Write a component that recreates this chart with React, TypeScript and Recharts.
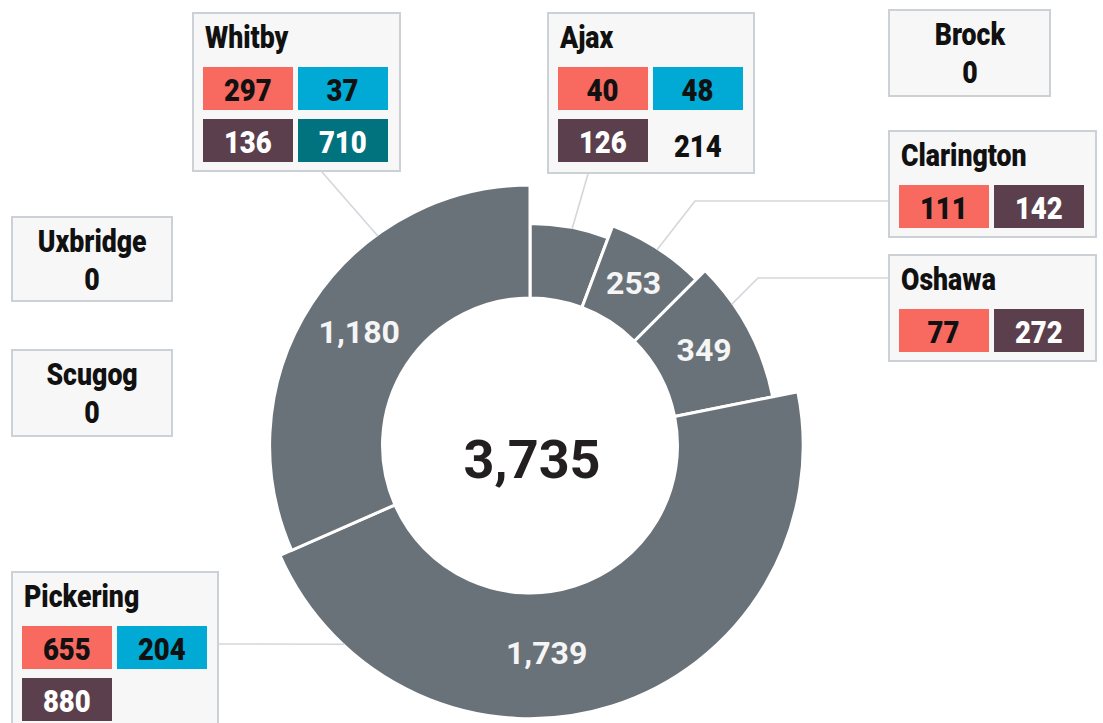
import { PieChart, Pie, Cell } from 'recharts';

// municipalities and the four breakdown series (red, cyan, plum, teal tiles)
const municipalities = ['Ajax', 'Clarington', 'Oshawa', 'Pickering', 'Whitby', 'Brock', 'Uxbridge', 'Scugog'];
const redValues = [40, 111, 77, 655, 297, 0, 0, 0];
const cyanValues = [48, 0, 0, 204, 37, 0, 0, 0];
const plumValues = [126, 142, 272, 880, 136, 0, 0, 0];
const tealValues = [0, 0, 0, 0, 710, 0, 0, 0];

const series = [redValues, cyanValues, plumValues, tealValues];
const tileStyles = [
  { bg: '#f8695f', color: '#111' },
  { bg: '#00aad4', color: '#111' },
  { bg: '#5c3f4d', color: '#fff' },
  { bg: '#00737e', color: '#fff' },
];

const totals = municipalities.map((_, i) => series.reduce((s, arr) => s + arr[i], 0));
const grandTotal = totals.reduce((s, v) => s + v, 0);
const sliceData = municipalities
  .map((name, i) => ({ name, value: totals[i] }))
  .filter((d) => d.value > 0);
const sortedValues = sliceData.map((d) => d.value).sort((a, b) => a - b);

const W = 1103;
const H = 723;
const CX = 530;
const CY = 445.5;
const INNER = 147.5;
const OUTER_BASE = 222;
const OUTER_STEP = 12.8;
const SLICE = '#6a7279';
const LEADER = '#d3d7db';
const MIN_LABEL_ANGLE = 22;
const RAD = Math.PI / 180;

const outerFor = (v: number) => OUTER_BASE + OUTER_STEP * sortedValues.indexOf(v);
const sliceAngle = (v: number) => (v / grandTotal) * 360;
const fmt = (v: number) => v.toLocaleString('en-US');

const labelShift: Record<string, number> = { Pickering: -13 };

const boxLayout: Record<string, { left: number; top: number; width: number; height: number }> = {
  Whitby: { left: 192, top: 12, width: 209, height: 160 },
  Ajax: { left: 547, top: 12, width: 208, height: 162 },
  Brock: { left: 888, top: 9, width: 163, height: 88 },
  Clarington: { left: 888, top: 130, width: 209, height: 108 },
  Oshawa: { left: 888, top: 254, width: 209, height: 108 },
  Uxbridge: { left: 11, top: 216, width: 162, height: 86 },
  Scugog: { left: 11, top: 349, width: 162, height: 88 },
  Pickering: { left: 11, top: 571, width: 208, height: 162 },
};

// leader lines: angle clockwise from 12 o'clock where they leave the ring, then points to the box
const leaders: { name: string; angle: number; path: number[][] }[] = [
  { name: 'Whitby', angle: 324, path: [[322, 172]] },
  { name: 'Ajax', angle: 11, path: [[588, 174]] },
  { name: 'Clarington', angle: 33, path: [[695, 201], [888, 201]] },
  { name: 'Oshawa', angle: 55, path: [[758, 278], [888, 278]] },
  { name: 'Pickering', angle: 223, path: [[219, 644]] },
];

function Narrow({ children, origin = 'center' }: { children: any; origin?: string }) {
  return (
    <span style={{ display: 'inline-block', fontWeight: 900, transform: 'scaleX(0.86)', transformOrigin: origin }}>
      {children}
    </span>
  );
}

function TownBox({ name }: { name: string }) {
  const i = municipalities.indexOf(name);
  const box = boxLayout[name];
  const total = totals[i];
  const base: any = {
    position: 'absolute',
    left: box.left,
    top: box.top,
    width: box.width,
    height: box.height,
    boxSizing: 'border-box',
    background: '#f7f7f7',
    border: '2px solid #ccd1d7',
    color: '#111',
    lineHeight: 1,
  };

  if (total === 0) {
    return (
      <div style={{ ...base, textAlign: 'center', paddingTop: 5, fontSize: 31, lineHeight: '38px' }}>
        <div><Narrow>{name}</Narrow></div>
        <div><Narrow>0</Narrow></div>
      </div>
    );
  }

  const tiles = series.map((arr, k) => ({ v: arr[i], k })).filter((t) => t.v > 0);
  const showTotal = sliceAngle(total) < MIN_LABEL_ANGLE;

  return (
    <div style={base}>
      <div style={{ position: 'absolute', left: 11, top: 8, fontSize: 31, lineHeight: '31px' }}>
        <Narrow origin="left center">{name}</Narrow>
      </div>
      <div
        style={{
          position: 'absolute',
          left: 9,
          top: 53,
          display: 'grid',
          gridTemplateColumns: 'repeat(2, 90px)',
          gridAutoRows: '43px',
          columnGap: 5,
          rowGap: 9,
          fontSize: 32,
        }}
      >
        {tiles.map((t) => (
          <div
            key={t.k}
            style={{
              background: tileStyles[t.k].bg,
              color: tileStyles[t.k].color,
              textAlign: 'center',
              lineHeight: '46px',
              overflow: 'hidden',
            }}
          >
            <Narrow>{fmt(t.v)}</Narrow>
          </div>
        ))}
        {showTotal && (
          <div style={{ textAlign: 'center', lineHeight: '54px', color: '#111' }}>
            <Narrow>{fmt(total)}</Narrow>
          </div>
        )}
      </div>
    </div>
  );
}

const renderLabel = (props: any, si: number) => {
  if (props.index !== si) return null;
  const d = sliceData[si];
  if (sliceAngle(d.value) < MIN_LABEL_ANGLE) return null;
  const cx = Number(props.cx ?? CX);
  const cy = Number(props.cy ?? CY);
  const ang = (props.midAngle + (labelShift[d.name] || 0)) * RAD;
  const r = (props.innerRadius + props.outerRadius) / 2;
  return (
    <text
      key={`lbl-${d.name}`}
      x={cx + r * Math.cos(ang)}
      y={cy - r * Math.sin(ang) - 2}
      textAnchor="middle"
      dominantBaseline="central"
      fontSize={32}
      fontWeight={700}
      fontFamily="Roboto, sans-serif"
      fill="#f5f5f5"
    >
      {fmt(d.value)}
    </text>
  );
};

export default function App() {
  return (
    <div
      style={{
        position: 'absolute',
        left: 0,
        top: 0,
        width: W,
        height: H,
        overflow: 'hidden',
        background: '#fff',
        fontFamily: 'Roboto, sans-serif',
      }}
    >
      <PieChart width={W} height={H} margin={{ top: 0, right: 0, bottom: 0, left: 0 }}>
        {sliceData.map((slice, si) => (
          <Pie
            key={slice.name}
            data={sliceData}
            dataKey="value"
            nameKey="name"
            cx={CX}
            cy={CY}
            innerRadius={INNER}
            outerRadius={outerFor(slice.value)}
            startAngle={90}
            endAngle={-270}
            stroke="#fff"
            strokeWidth={3}
            labelLine={false}
            label={(p: any) => renderLabel(p, si)}
            isAnimationActive={false}
          >
            {sliceData.map((d, ci) => (
              <Cell key={d.name} fill={ci === si ? SLICE : 'none'} stroke={ci === si ? '#fff' : 'none'} />
            ))}
          </Pie>
        ))}
      </PieChart>

      <svg width={W} height={H} style={{ position: 'absolute', left: 0, top: 0, pointerEvents: 'none' }}>
        {leaders.map((l) => {
          const v = totals[municipalities.indexOf(l.name)];
          const r = outerFor(v) - 1.5;
          const a = l.angle * RAD;
          const pts = [[CX + r * Math.sin(a), CY - r * Math.cos(a)], ...l.path];
          return (
            <polyline
              key={l.name}
              points={pts.map((p) => p.join(',')).join(' ')}
              fill="none"
              stroke={LEADER}
              strokeWidth={1.6}
            />
          );
        })}
        <text
          x={CX + 2}
          y={CY + 14}
          textAnchor="middle"
          dominantBaseline="central"
          fontSize={54}
          fontWeight={700}
          fontFamily="Roboto, sans-serif"
          fill="#231f20"
        >
          {fmt(grandTotal)}
        </text>
      </svg>

      {municipalities.map((name) => (
        <TownBox key={name} name={name} />
      ))}
    </div>
  );
}
